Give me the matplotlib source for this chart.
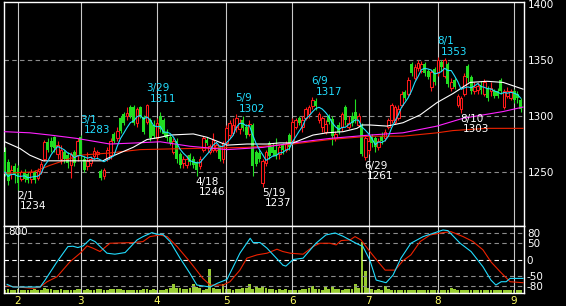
import numpy as np
import pandas as pd
import matplotlib
matplotlib.use('Agg')
import matplotlib.pyplot as plt

# meses (indice de sesion donde empieza cada mes)
month_labels = ['2', '3', '4', '5', '6', '7', '8', '9']
month_start = [4, 23, 46, 67, 87, 110, 131, 154]

# velas diarias
opens = [1268, 1259, 1248, 1255, 1254, 1244, 1250, 1248, 1244, 1250,
         1245, 1250, 1262, 1277, 1278, 1281, 1266, 1262, 1268, 1265,
         1256, 1268, 1265, 1281, 1262, 1255, 1258, 1264, 1266, 1251,
         1246, 1262, 1265, 1284, 1280, 1298, 1302, 1300, 1308, 1308,
         1294, 1308, 1299, 1295, 1296, 1292, 1280, 1300, 1296, 1286,
         1281, 1268, 1278, 1266, 1258, 1256, 1265, 1262, 1259, 1255,
         1270, 1279, 1268, 1270, 1270, 1272, 1262, 1276, 1283, 1285,
         1290, 1288, 1296, 1290, 1284, 1292, 1268, 1267, 1240, 1258,
         1276, 1272, 1270, 1266, 1274, 1270, 1283, 1278, 1290, 1298,
         1290, 1298, 1302, 1309, 1313, 1296, 1290, 1286, 1300, 1297,
         1280, 1292, 1290, 1308, 1290, 1300, 1304, 1292, 1292, 1263,
         1270, 1282, 1280, 1272, 1282, 1280, 1290, 1296, 1295, 1298,
         1310, 1321, 1320, 1346, 1334, 1343, 1340, 1346, 1340, 1326,
         1342, 1338, 1348, 1336, 1346, 1325, 1332, 1310, 1306, 1320,
         1345, 1335, 1322, 1323, 1328, 1320, 1325, 1322, 1322, 1322,
         1332, 1308, 1318, 1316, 1322, 1320, 1314]
highs = [1272, 1262, 1256, 1258, 1256, 1252, 1253, 1250, 1253, 1252,
         1254, 1260, 1279, 1280, 1281, 1282, 1278, 1274, 1270, 1268,
         1268, 1270, 1280, 1283, 1264, 1268, 1264, 1272, 1270, 1253,
         1254, 1272, 1280, 1286, 1290, 1300, 1304, 1308, 1310, 1310,
         1308, 1309, 1301, 1311, 1298, 1296, 1298, 1304, 1298, 1288,
         1283, 1280, 1280, 1268, 1264, 1265, 1267, 1264, 1260, 1264,
         1282, 1281, 1275, 1285, 1276, 1274, 1278, 1292, 1296, 1298,
         1302, 1297, 1300, 1293, 1296, 1294, 1270, 1270, 1262, 1270,
         1278, 1276, 1280, 1274, 1276, 1278, 1285, 1298, 1298, 1300,
         1300, 1308, 1310, 1317, 1316, 1304, 1300, 1296, 1302, 1300,
         1287, 1295, 1304, 1310, 1300, 1304, 1315, 1303, 1294, 1282,
         1282, 1284, 1282, 1280, 1286, 1288, 1298, 1312, 1310, 1310,
         1322, 1323, 1335, 1348, 1346, 1350, 1349, 1348, 1342, 1341,
         1344, 1353, 1350, 1352, 1348, 1334, 1334, 1320, 1318, 1338,
         1346, 1337, 1330, 1330, 1331, 1333, 1327, 1330, 1324, 1325,
         1334, 1324, 1326, 1324, 1324, 1322, 1316]
lows = [1246, 1238, 1244, 1240, 1234, 1242, 1241, 1240, 1240, 1240,
        1243, 1248, 1260, 1268, 1268, 1268, 1262, 1257, 1258, 1254,
        1245, 1255, 1260, 1260, 1250, 1252, 1255, 1262, 1262, 1243,
        1244, 1260, 1262, 1276, 1278, 1285, 1292, 1296, 1298, 1292,
        1290, 1298, 1284, 1293, 1278, 1280, 1278, 1286, 1282, 1278,
        1274, 1266, 1258, 1254, 1254, 1254, 1256, 1254, 1246, 1253,
        1268, 1274, 1266, 1268, 1268, 1260, 1258, 1272, 1280, 1283,
        1286, 1284, 1287, 1280, 1282, 1246, 1255, 1259, 1237, 1255,
        1262, 1264, 1262, 1262, 1266, 1268, 1270, 1276, 1288, 1292,
        1286, 1296, 1298, 1306, 1305, 1294, 1286, 1284, 1293, 1274,
        1278, 1284, 1287, 1292, 1288, 1291, 1294, 1290, 1264, 1261,
        1266, 1272, 1268, 1270, 1275, 1278, 1288, 1294, 1293, 1296,
        1308, 1314, 1318, 1336, 1332, 1340, 1338, 1336, 1333, 1322,
        1328, 1336, 1340, 1334, 1326, 1322, 1324, 1308, 1303, 1318,
        1330, 1320, 1320, 1320, 1320, 1318, 1313, 1318, 1316, 1316,
        1320, 1306, 1316, 1314, 1312, 1312, 1304]
closes = [1250, 1242, 1252, 1247, 1240, 1250, 1244, 1243, 1250, 1243,
          1251, 1257, 1277, 1270, 1272, 1271, 1274, 1270, 1262, 1258,
          1266, 1258, 1278, 1264, 1252, 1260, 1262, 1269, 1268, 1245,
          1252, 1270, 1278, 1278, 1287, 1287, 1294, 1303, 1300, 1294,
          1306, 1300, 1286, 1310, 1280, 1282, 1294, 1288, 1284, 1280,
          1276, 1278, 1262, 1256, 1262, 1262, 1259, 1256, 1252, 1262,
          1280, 1276, 1273, 1279, 1274, 1262, 1276, 1289, 1294, 1292,
          1298, 1294, 1289, 1283, 1293, 1255, 1257, 1262, 1260, 1268,
          1264, 1267, 1264, 1272, 1270, 1275, 1272, 1295, 1296, 1294,
          1296, 1306, 1308, 1314, 1309, 1302, 1298, 1293, 1295, 1282,
          1284, 1286, 1302, 1296, 1294, 1294, 1297, 1300, 1266, 1280,
          1278, 1276, 1272, 1278, 1278, 1286, 1296, 1310, 1308, 1306,
          1320, 1316, 1332, 1338, 1344, 1347, 1346, 1338, 1335, 1339,
          1330, 1350, 1344, 1350, 1329, 1330, 1326, 1318, 1316, 1336,
          1334, 1322, 1326, 1327, 1323, 1330, 1316, 1325, 1318, 1318,
          1322, 1322, 1322, 1322, 1314, 1316, 1306]
volume = [45, 50, 40, 42, 55, 38, 44, 36, 40, 48,
          42, 46, 60, 52, 48, 44, 40, 50, 38, 45,
          42, 40, 55, 58, 46, 50, 44, 40, 52, 48,
          46, 44, 50, 56, 48, 52, 45, 42, 40, 46,
          44, 42, 48, 52, 46, 50, 44, 40, 45, 48,
          60, 120, 62, 70, 58, 48, 62, 120, 80, 60,
          45, 50, 320, 60, 52, 48, 115, 55, 50, 45,
          52, 48, 60, 70, 120, 55, 80, 60, 95, 70,
          55, 48, 45, 50, 42, 48, 40, 45, 38, 42,
          48, 52, 60, 95, 58, 50, 44, 80, 52, 80,
          55, 48, 45, 50, 52, 48, 120, 60, 680, 295,
          60, 50, 45, 48, 42, 90, 52, 46, 40, 44,
          38, 42, 45, 40, 44, 46, 40, 42, 38, 44,
          42, 40, 46, 44, 40, 70, 48, 44, 40, 38,
          40, 44, 42, 38, 40, 42, 36, 40, 38, 42,
          40, 44, 46, 42, 40, 44, 46]

# medias largas (sesion, valor)
ma25_day = [0, 4.6, 7.6, 11.6, 29.7, 30.9, 34.8, 38.8, 43, 47, 50, 57, 61.2, 67.2, 73.2,
            79.3, 83.2, 87.2, 93.2, 97.4, 102.3, 106.5, 108, 110.4, 115.6, 120.4, 125.6,
            130.7, 135.5, 140.7, 145.8, 150.7, 156.7]
ma25_val = [1277, 1271, 1265, 1260, 1260, 1262, 1267, 1272, 1279, 1281, 1283, 1284, 1281,
            1274, 1275, 1275, 1276, 1276, 1283, 1285, 1286, 1289, 1292, 1292, 1291, 1294,
            1301, 1312, 1320, 1330, 1331, 1330, 1324]
ma75_day = [0, 7.6, 13.7, 21.8, 31.8, 40, 47, 56, 67.2, 78.1, 87.2, 98.3, 110.4, 120.4,
            130.7, 138.6, 150.7, 156.7]
ma75_val = [1286, 1285, 1283, 1280, 1275, 1276, 1277, 1273, 1270, 1272, 1276, 1280, 1283,
            1285, 1291, 1298, 1304, 1308]
ma200_day = [0, 8.6, 13.7, 22.7, 31.8, 40.9, 56, 73.2, 87.2, 98.3, 110.4, 120.4, 130.7,
             135.5, 145.8, 156.7]
ma200_val = [1249, 1250, 1256, 1265, 1267, 1270, 1271, 1272, 1275, 1279, 1282, 1282, 1285,
             1287, 1289, 1289]

# oscilador (panel inferior)
osc1_day = [0.7, 2.5, 10.7, 12.2, 15.8, 19.1, 20.6, 22.1, 23.7, 25.8, 27.3, 30.9, 33.3,
            36.4, 40, 41.8, 44.5, 46, 47.8, 50, 53, 56, 58.1, 62.1, 64.2, 67.2, 71.1, 74.2,
            75.1, 77.2, 79.3, 84.1, 85, 87.2, 90.2, 94.1, 97.1, 99.9, 102.3, 106.2, 108.3,
            110.4, 112.3, 115.3, 117.4, 119.8, 122.8, 126.5, 130.4, 132.5, 134, 137.7, 141,
            144.6, 147, 148.5, 150.1, 151.6, 152.8, 156.7]
osc1_val = [-75, -83, -83, -62, -7, 39, 40, 36, 41, 61, 54, 19, 16, 21, 59, 69, 81, 76, 76,
            54, 4, -42, -77, -83, -72, -60, 19, 64, 51, 51, 34, -17, -20, 0, 4, 49, 74, 80,
            70, 49, 39, -2, -62, -70, -47, 4, 49, 69, 82, 89, 87, 49, 24, -22, -62, -77,
            -67, -67, -57, -57]
osc2_day = [0.7, 8.5, 10.7, 12.8, 15.8, 19.7, 22.8, 24.9, 26.7, 28.8, 31.8, 38.8, 41.8,
            43.9, 46.9, 49.1, 52.1, 56, 59.9, 62.1, 66, 68.1, 71.1, 73.2, 76.3, 79.3, 82.3,
            84.1, 86.3, 90.2, 93.2, 95.3, 98.3, 100.2, 101.7, 104.4, 105.9, 107.7, 110.4,
            112.9, 115, 118, 120.4, 122.8, 125.6, 128.6, 132.5, 134.9, 138.6, 141.6, 144.6,
            147, 149.8, 152.8, 156.7]
osc2_val = [-80, -87, -83, -67, -52, -7, 19, 41, 34, 24, 49, 51, 54, 69, 74, 69, 39, -7,
            -57, -77, -77, -67, -32, 4, 14, 19, 31, 24, 19, 16, 39, 49, 49, 44, 57, 59, 69,
            59, 24, -7, -32, -32, -4, 14, 54, 74, 81, 84, 69, 54, 29, -7, -37, -67, -70]

# maximos y minimos marcados
high_marks = [('3/1', 23), ('3/29', 43), ('5/9', 70), ('6/9', 93), ('8/1', 131)]
low_marks = [('2/1', 4), ('4/18', 58), ('5/19', 78), ('6/29', 109), ('8/10', 138)]

ROJO = '#ff1a1a'
VERDE = '#22dd22'
CIAN = '#22ddff'
GRIS = '#8c8c8c'
FUENTE = 'DejaVu Sans'

o = np.array(opens, float)
h = np.array(highs, float)
l = np.array(lows, float)
c = np.array(closes, float)
dias = np.arange(len(c))
sube = c >= o
ma5 = pd.Series(c).rolling(5, min_periods=1).mean()

fig = plt.figure(figsize=(5.66, 3.06), dpi=100, facecolor='black')
ax = fig.add_axes([4 / 566, 1 - 226 / 306, 520 / 566, 224 / 306], facecolor='black')
axv = fig.add_axes([4 / 566, 1 - 293 / 306, 520 / 566, 67 / 306], facecolor='black')
ax2 = fig.add_axes([4 / 566, 1 - 293 / 306, 520 / 566, 67 / 306])
ax2.patch.set_visible(False)

xlim = (-0.23, 157.0)

# --- panel de precios ---
for p in [1250, 1300, 1350]:
    ax.axhline(p, color=GRIS, lw=0.8, ls=(0, (4, 3)), zorder=1)
for m in month_start:
    ax.axvline(m, color='#c8c8c8', lw=0.8, zorder=1)

ax.vlines(dias, l, h, colors=np.where(sube, ROJO, VERDE), lw=0.8, zorder=2)
ax.bar(dias[sube], c[sube] - o[sube], bottom=o[sube], width=0.8,
       facecolor='black', edgecolor=ROJO, linewidth=0.75, zorder=3)
ax.bar(dias[~sube], o[~sube] - c[~sube], bottom=c[~sube], width=0.9,
       color=VERDE, linewidth=0, zorder=3, antialiased=False)

ax.plot(ma200_day, ma200_val, color='#ee2200', lw=0.8, zorder=4)
ax.plot(ma75_day, ma75_val, color='#ff22ff', lw=0.8, zorder=4)
ax.plot(ma25_day, ma25_val, color='white', lw=0.8, zorder=4)
ax.plot(dias, ma5, color=CIAN, lw=0.8, zorder=5)

px = 72 / 100
for txt, i in high_marks:
    ax.annotate(f'{highs[i]}', (i, highs[i]), xytext=(3 * px, 0), textcoords='offset points',
                color=CIAN, fontsize=7.5, family=FUENTE, ha='left', va='bottom', zorder=6)
    ax.annotate(txt, (i, highs[i]), xytext=(-1 * px, 10.5 * px), textcoords='offset points',
                color=CIAN, fontsize=7.5, family=FUENTE, ha='left', va='bottom', zorder=6)
for txt, i in low_marks:
    ax.annotate(txt, (i, lows[i]), xytext=(-1 * px, -1 * px), textcoords='offset points',
                color='white', fontsize=7.5, family=FUENTE, ha='left', va='top', zorder=6)
    ax.annotate(f'{lows[i]}', (i, lows[i]), xytext=(2 * px, -11 * px), textcoords='offset points',
                color='white', fontsize=7.5, family=FUENTE, ha='left', va='top', zorder=6)

ax.set_xlim(*xlim)
ax.set_ylim(1201.8, 1401.8)
ax.set_xticks([])
ax.yaxis.tick_right()
ax.set_yticks([1250, 1300, 1350, 1400])
ax.tick_params(axis='y', colors='white', length=0, pad=3, labelsize=7.5)
for s in ax.spines.values():
    s.set_color('white')
    s.set_linewidth(1)

# --- panel inferior: volumen + oscilador ---
axv.bar(dias, volume, width=0.85, color='#99cc33', linewidth=0, antialiased=False)
axv.set_xlim(*xlim)
axv.set_ylim(0, 893)
axv.set_xticks([])
axv.set_yticks([])
for s in axv.spines.values():
    s.set_visible(False)

for v in [80, 50, -50, -80]:
    ax2.axhline(v, color=GRIS, lw=0.8, ls=(0, (4, 3)), zorder=1)
ax2.axhline(0, color='white', lw=0.8, ls=(0, (4, 3)), zorder=1)
for m in month_start:
    ax2.axvline(m, color='#c8c8c8', lw=0.8, zorder=1)
ax2.plot(osc2_day, osc2_val, color='#ee2200', lw=0.8, zorder=3)
ax2.plot(osc1_day, osc1_val, color=CIAN, lw=0.8, zorder=4)
ax2.text(0.008, 0.985, '800', transform=ax2.transAxes, color='white', fontsize=7.5,
         family=FUENTE, ha='left', va='top')

ax2.set_xlim(*xlim)
ax2.set_ylim(-101, 101)
ax2.yaxis.tick_right()
ax2.set_yticks([80, 50, 0, -50, -80])
ax2.set_yticklabels(['80', '50', '0', '-50', '-80'], ha='left')
ax2.tick_params(axis='y', colors='white', length=0, pad=2, labelsize=7.5)
ax2.set_xticks(month_start)
ax2.set_xticklabels(month_labels)
ax2.tick_params(axis='x', colors='#ffff66', length=0, pad=2, labelsize=7.5)
for s in ax2.spines.values():
    s.set_color('white')
    s.set_linewidth(1)

fig.savefig('out.png', dpi=100, facecolor='black')
